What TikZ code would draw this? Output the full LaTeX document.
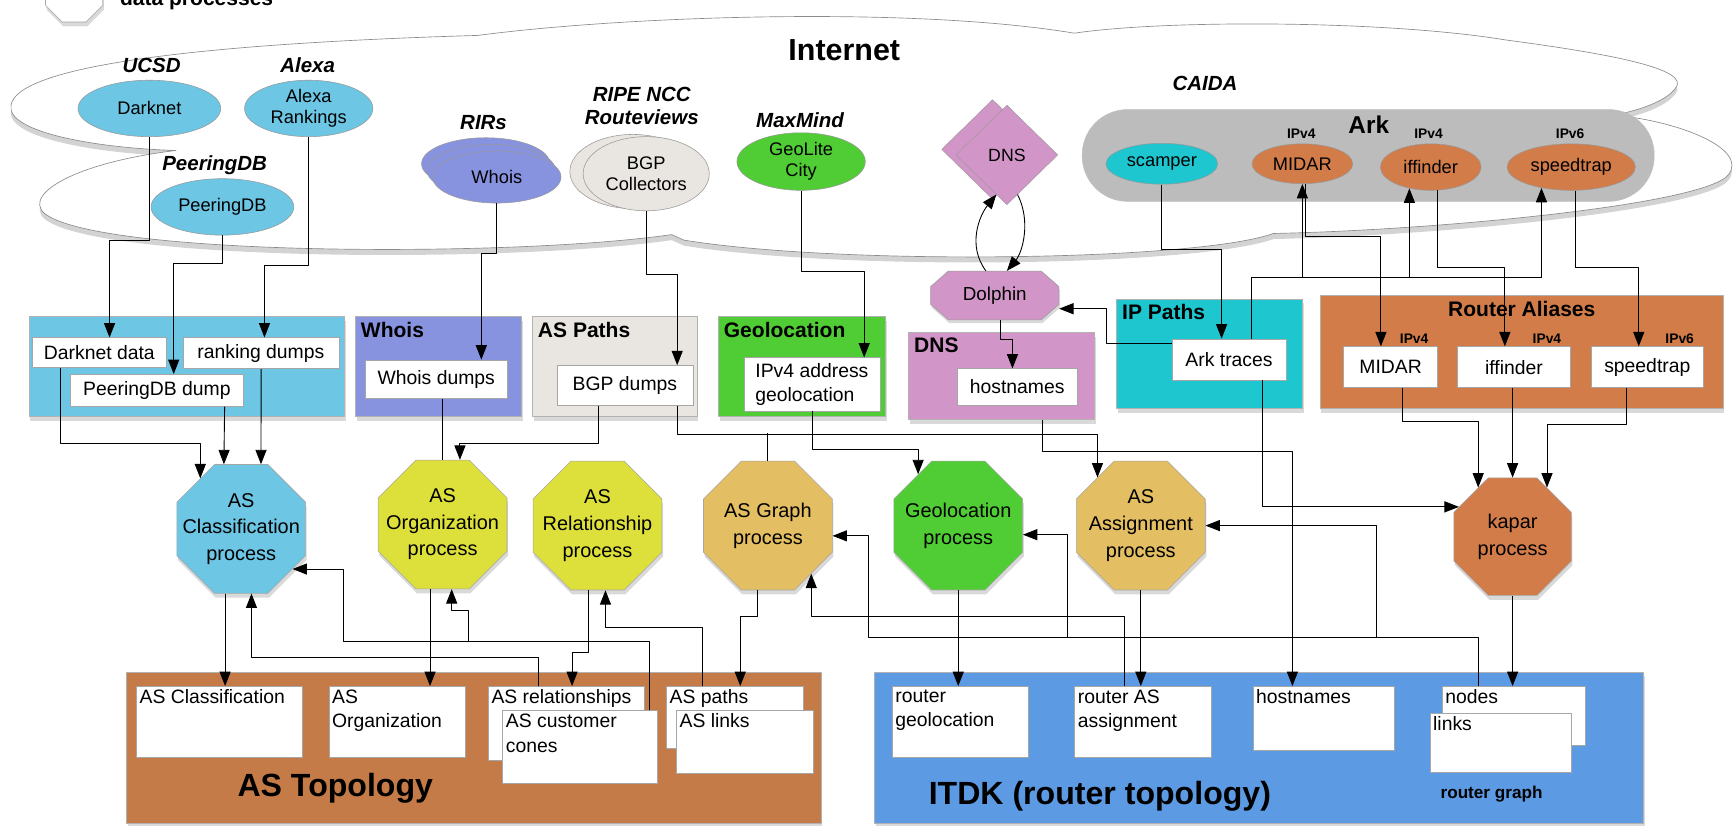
\documentclass[tikz,border=0pt]{standalone}
\usepackage{fontspec}
\setmainfont{Liberation Sans}
\usetikzlibrary{arrows.meta,shapes.geometric,shadows}

\definecolor{cSky}{RGB}{108,198,228}
\definecolor{cLav}{RGB}{136,147,224}
\definecolor{cSand}{RGB}{233,229,224}
\definecolor{cLeaf}{RGB}{80,204,52}
\definecolor{cOrchid}{RGB}{209,150,199}
\definecolor{cTeal}{RGB}{30,198,208}
\definecolor{cRust}{RGB}{210,124,74}
\definecolor{cLime}{RGB}{221,223,58}
\definecolor{cGold}{RGB}{227,190,98}
\definecolor{cBrown}{RGB}{196,123,72}
\definecolor{cBlue}{RGB}{92,155,228}
\definecolor{cArk}{RGB}{188,188,188}

\begin{document}
\begin{tikzpicture}[
  x=1pt,y=-1pt,
  line join=round,
  srclabel/.style={font=\fontsize{18.5}{21}\selectfont\bfseries\itshape,align=center},
  src/.style={ellipse,draw=black!40,line width=0.5pt,inner sep=0pt,align=center,
    font=\fontsize{16.5}{19}\selectfont},
  iplbl/.style={font=\fontsize{12.5}{14}\selectfont\bfseries},
  container/.style={rectangle,draw=black!30,line width=0.5pt,anchor=north west,inner sep=0pt,
    drop shadow={shadow xshift=1pt,shadow yshift=-4pt,opacity=0.3}},
  wbox/.style={rectangle,draw=black!35,line width=0.5pt,fill=white,anchor=north west,
    inner sep=0pt,align=center,font=\fontsize{17.5}{22}\selectfont},
  boxtext/.style={anchor=north west,inner sep=3pt,align=left,font=\fontsize{17.5}{22.5}\selectfont},
  boxtitle/.style={anchor=north west,inner sep=5pt,font=\fontsize{19}{21}\selectfont\bfseries},
  bigtitle/.style={font=\fontsize{29}{32}\selectfont\bfseries},
  proc/.style={regular polygon,regular polygon sides=8,minimum size=126pt,inner sep=0pt,
    draw=black!35,line width=0.5pt,drop shadow={shadow xshift=1pt,shadow yshift=-4pt,opacity=0.3}},
  proctext/.style={align=center,font=\fontsize{18}{24}\selectfont},
  arrow/.style={-{Triangle[length=13pt,width=10pt]},line width=0.8pt},
  wire/.style={line width=0.8pt}
]
\useasboundingbox (0,0) rectangle (1568,746);
\clip (0,0) rectangle (1568,746);

% legend (cut at the top)
\node[proc,minimum size=56pt,fill=white] (legendoct) at (67,-6) {};
\node[anchor=base west,font=\fontsize{19}{21}\selectfont\bfseries] (legendtxt) at (105,5) {data processes};

% Internet cloud
\path[fill=white,draw=black!45,line width=0.6pt,
  drop shadow={shadow xshift=0pt,shadow yshift=-5pt,opacity=0.35}]
  (432,32) .. controls (560,15) and (820,5) .. (971,30)
  .. controls (1050,18) and (1250,18) .. (1360,36)
  .. controls (1450,48) and (1530,62) .. (1514,80)
  .. controls (1505,92) and (1480,100) .. (1459,104)
  .. controls (1520,110) and (1580,135) .. (1562,158)
  .. controls (1540,185) and (1300,208) .. (1151,211)
  .. controls (1080,236) and (760,240) .. (618,217)
  -- (607,212)
  .. controls (470,232) and (110,232) .. (45,196)
  .. controls (15,180) and (60,148) .. (159,136)
  .. controls (90,134) and (5,120) .. (10,95)
  .. controls (15,62) and (160,40) .. cycle;
\node[font=\fontsize{27.5}{30}\selectfont\bfseries] (internet) at (763,45) {Internet};

% data sources
\node[srclabel] (ucsdlbl) at (137,59) {UCSD};
\node[src,fill=cSky,minimum width=129pt,minimum height=51pt] (darknet) at (135,98) {Darknet};
\node[srclabel] (alexalbl) at (278,59) {Alexa};
\node[src,fill=cSky,minimum width=116pt,minimum height=51pt] (alexa) at (279,98) {Alexa\\Rankings};
\node[srclabel] (peerlbl) at (194,149) {PeeringDB};
\node[src,fill=cSky,minimum width=129pt,minimum height=51pt] (peeringdb) at (201,187) {PeeringDB};
\node[srclabel] (rirlbl) at (437,111) {RIRs};
\node[src,fill=cLav,minimum width=116pt,minimum height=47pt] (whois3) at (439,148) {};
\node[src,fill=cLav,minimum width=116pt,minimum height=47pt] (whois2) at (444,154) {};
\node[src,fill=cLav,minimum width=116pt,minimum height=47pt] (whois) at (449,160) {Whois};
\node[srclabel] (ripelbl) at (580,96) {RIPE NCC\\Routeviews};
\node[src,fill=cSand,minimum width=114pt,minimum height=67pt] (bgpback) at (572,155) {};
\node[src,fill=cSand,minimum width=114pt,minimum height=67pt] (bgp) at (584,157) {BGP\\Collectors};
\node[srclabel] (maxlbl) at (723,109) {MaxMind};
\node[src,fill=cLeaf,minimum width=116pt,minimum height=52pt] (geolite) at (724,146) {GeoLite\\City};
\node[diamond,draw=black!40,fill=cOrchid,minimum width=92pt,minimum height=90pt,inner sep=0pt] (dnsback) at (897,135) {};
\node[diamond,draw=black!40,fill=cOrchid,minimum width=92pt,minimum height=90pt,inner sep=0pt,
  font=\fontsize{16}{18}\selectfont] (dns) at (910,140) {DNS};
% Dolphin octagon, stretched
\path[fill=cOrchid,draw=black!40,line width=0.5pt,
  drop shadow={shadow xshift=1pt,shadow yshift=-3pt,opacity=0.3}]
  (841,259) -- (857,245) -- (941,245) -- (957,259) -- (957,275) -- (941,289) -- (857,289) -- (841,275) -- cycle;
\node[minimum width=116pt,minimum height=44pt,inner sep=0pt,font=\fontsize{17}{19}\selectfont] (dolphin) at (899,267) {Dolphin};

% CAIDA / Ark
\node[srclabel] (caidalbl) at (1089,75) {CAIDA};
\node[rectangle,rounded corners=41pt,fill=cArk,draw=black!25,minimum width=517pt,minimum height=83pt] (ark) at (1236.5,140.5) {};
\node[font=\fontsize{22}{24}\selectfont\bfseries] (arklbl) at (1237,113) {Ark};
\node[src,fill=cTeal,minimum width=101pt,minimum height=37pt] (scamper) at (1050,148) {scamper};
\node[src,fill=cRust,minimum width=91pt,minimum height=36pt] (midar) at (1177,148) {MIDAR};
\node[src,fill=cRust,minimum width=91pt,minimum height=42pt] (iffinder) at (1293,151) {iffinder};
\node[src,fill=cRust,minimum width=116pt,minimum height=42pt] (speedtrap) at (1420,151) {speedtrap};
\node[iplbl] (ipa) at (1176,121) {IPv4};
\node[iplbl] (ipb) at (1291,121) {IPv4};
\node[iplbl] (ipc) at (1419,121) {IPv6};

% data products
\node[container,fill=cSky,minimum width=285pt,minimum height=90pt] (asinputs) at (26,286) {};
\node[container,fill=cLav,minimum width=150pt,minimum height=90pt,label={[boxtitle]north west:Whois}] (whoisbox) at (321,286) {};
\node[container,fill=cSand,minimum width=149pt,minimum height=90pt,label={[boxtitle]north west:AS Paths}] (pathbox) at (481,286) {};
\node[container,fill=cLeaf,minimum width=151pt,minimum height=90pt,label={[boxtitle]north west:Geolocation}] (geobox) at (649,286) {};
\node[container,fill=cOrchid,minimum width=168pt,minimum height=79pt,label={[boxtitle]north west:DNS}] (dnsbox) at (821,300) {};
\node[container,fill=cTeal,minimum width=168pt,minimum height=99pt,label={[boxtitle]north west:IP Paths}] (ipbox) at (1009,270) {};
\node[container,fill=cRust,minimum width=364pt,minimum height=102pt,label={[boxtitle,anchor=north]north:Router Aliases}] (aliasbox) at (1193,267) {};

\node[wbox,minimum width=121pt,minimum height=27pt] (darkdata) at (29,305) {Darknet data};
\node[wbox,minimum width=141pt,minimum height=28pt] (rankdumps) at (165,305) {ranking dumps};
\node[wbox,minimum width=157pt,minimum height=29pt] (peerdump) at (63,338) {PeeringDB dump};
\node[wbox,minimum width=128pt,minimum height=35pt] (whoisdumps) at (330,325) {Whois dumps};
\node[wbox,minimum width=123pt,minimum height=36pt] (bgpdumps) at (503,330) {BGP dumps};
\node[wbox,minimum width=123pt,minimum height=48pt,align=left] (ipgeo) at (672,323) {IPv4 address\\geolocation};
\node[wbox,minimum width=108pt,minimum height=33pt] (dnsnames) at (865,333) {hostnames};
\node[wbox,minimum width=103pt,minimum height=37pt] (arktraces) at (1059,306) {Ark traces};
\node[wbox,minimum width=85pt,minimum height=37pt] (midarbox) at (1214,313) {MIDAR};
\node[wbox,minimum width=102pt,minimum height=37pt] (iffbox) at (1317,313) {iffinder};
\node[wbox,minimum width=101pt,minimum height=37pt] (speedbox) at (1438,313) {speedtrap};
\node[iplbl] (ipd) at (1278,306) {IPv4};
\node[iplbl] (ipe) at (1398,306) {IPv4};
\node[iplbl] (ipf) at (1518,306) {IPv6};

% processes
\node[proc,fill=cSky,label={[proctext]center:{AS\\Classification\\process}}] (asclass) at (218,478) {};
\node[proc,fill=cLime,label={[proctext]center:{AS\\Organization\\process}}] (asorg) at (400,474) {};
\node[proc,fill=cLime,label={[proctext]center:{AS\\Relationship\\process}}] (asrel) at (540,475) {};
\node[proc,fill=cGold,label={[proctext]center:{AS Graph\\process}}] (asgraph) at (694,475) {};
\node[proc,fill=cLeaf,label={[proctext]center:{Geolocation\\process}}] (geoproc) at (866,475) {};
\node[proc,fill=cGold,label={[proctext]center:{AS\\Assignment\\process}}] (asassign) at (1031,475) {};
\node[proc,fill=cRust,minimum size=115pt,label={[proctext]center:{kapar\\process}}] (kapar) at (1367,485) {};

% topologies
\node[container,fill=cBrown,minimum width=628pt,minimum height=137pt] (astopo) at (114,607) {};
\node[container,fill=cBlue,minimum width=695pt,minimum height=137pt] (itdk) at (790,607) {};
\node[bigtitle] (astopolbl) at (303,712) {AS Topology};
\node[bigtitle] (itdklbl) at (994,720) {ITDK (router topology)};
\node[font=\fontsize{15.5}{18}\selectfont\bfseries] (graphlbl) at (1348,718) {router graph};

\node[wbox,minimum width=150pt,minimum height=64pt,label={[boxtext]north west:AS Classification}] (asclassbox) at (123,620) {};
\node[wbox,minimum width=123pt,minimum height=64pt,label={[boxtext]north west:{AS\\Organization}}] (asorgbox) at (297,620) {};
\node[wbox,minimum width=141pt,minimum height=67pt,label={[boxtext]north west:AS relationships}] (asrelbox) at (441,620) {};
\node[wbox,minimum width=140pt,minimum height=66pt,label={[boxtext]north west:{AS customer\\cones}}] (asconebox) at (454,642) {};
\node[wbox,minimum width=124pt,minimum height=56pt,label={[boxtext]north west:AS paths}] (aspathbox) at (602,620) {};
\node[wbox,minimum width=124pt,minimum height=57pt,label={[boxtext]north west:AS links}] (aslinkbox) at (611,642) {};
\node[wbox,minimum width=123pt,minimum height=64pt,label={[boxtext]north west:{router\\geolocation}}] (rgeobox) at (806,620) {};
\node[wbox,minimum width=123pt,minimum height=64pt,label={[boxtext]north west:{router AS\\assignment}}] (rasbox) at (971,620) {};
\node[wbox,minimum width=128pt,minimum height=58pt,label={[boxtext]north west:hostnames}] (rnamebox) at (1132,620) {};
\node[wbox,minimum width=129pt,minimum height=53pt,label={[boxtext]north west:nodes}] (nodebox) at (1303,620) {};
\node[wbox,minimum width=128pt,minimum height=54pt,label={[boxtext]north west:links}] (linkbox) at (1292,644) {};

% sources to data products
\draw[arrow] (darknet.south) |- (99,217) -- ([xshift=70pt]darkdata.north west);
\draw[arrow] (peeringdb.south) |- (157,238) -- ([xshift=94pt]peerdump.north west);
\draw[arrow] (alexa.south) |- (239,240) -- ([xshift=74pt]rankdumps.north west);
\draw[arrow] (whois.south) |- (435,229) -- ([xshift=105pt]whoisdumps.north west);
\draw[arrow] (bgp.south) |- (612,248) -- ([xshift=109pt]bgpdumps.north west);
\draw[arrow] (geolite.south) |- (781,245) -- ([xshift=109pt]ipgeo.north west);
\draw[arrow] ([xshift=-8pt]dolphin.north) .. controls (874,222) and (885,195) .. (dns.-105);
\draw[arrow] (dns.-75) .. controls (932,200) and (924,228) .. ([xshift=11pt]dolphin.north);
\draw[arrow] ([xshift=5pt]dolphin.south) |- (915,307) -- ([xshift=50pt]dnsnames.north west);
\draw[arrow] ([yshift=-4pt]arktraces.north west) -- (1000,310) |- ([yshift=-12pt]dolphin.east);
\draw[arrow] (scamper.south) |- (1104,225) -- ([xshift=45pt]arktraces.north west);

% Ark probing for aliases
\coordinate (probes) at (1131,251);
\draw[wire] ([xshift=72pt]arktraces.north west) |- (speedtrap.-145 |- probes);
\draw[arrow] (midar.south |- probes) -- (midar.south);
\draw[arrow] (iffinder.-135 |- probes) -- (iffinder.-135);
\draw[arrow] (speedtrap.-145 |- probes) -- (speedtrap.-145);
\draw[arrow] (midar.-80) |- (1248,214) -- ([xshift=34pt]midarbox.north west);
\draw[arrow] (iffinder.-75) |- (1360,242) -- ([xshift=43pt]iffbox.north west);
\draw[arrow] (speedtrap.-80) |- (1481,242) -- ([xshift=43pt]speedbox.north west);

% into kapar
\draw[arrow] ([xshift=53pt]midarbox.south west) -- ++(0,30) -| (kapar.125);
\draw[arrow] (kapar.north |- iffbox.south) -- (kapar.north);
\draw[arrow] ([xshift=32pt]speedbox.south west) -- ++(0,33) -| (kapar.55);
\draw[arrow] ([xshift=82pt]arktraces.south west) |- (kapar.151);

% data products to processes
\draw[arrow] ([xshift=26pt]darkdata.south west) -- ++(0,68) -| (asclass.129);
\draw[arrow] ([xshift=140pt]peerdump.south west) -- (asclass.105);
\draw[arrow] ([xshift=71pt]rankdumps.south west) -- (asclass.73);
\draw[wire] ([xshift=70pt]whoisdumps.south west) -- (asorg.north);
\draw[arrow] ([xshift=38pt]bgpdumps.south west) -- ++(0,34) -| (asorg.75);
\draw[arrow] ([xshift=109pt]bgpdumps.south west) -- ++(0,26) -| (asassign.132);
\draw[wire] (asgraph.north) -- ++(0,-25);
\draw[arrow] ([xshift=62pt]ipgeo.south west) -- ++(0,35) -| (geoproc.128);
\draw[arrow] ([xshift=121pt]dnsbox.south west) |- (1168,408) -- ([xshift=36pt]rnamebox.north west);

% processes and topology products
\draw[arrow] (asclass.-104) -- (asclass.-104 |- asclassbox.north);
\draw[arrow] ([xshift=46pt]asrelbox.north west) -- ++(0,-26) -| (asclass.-81);
\coordinate (jorg) at (423,580);
\draw[arrow] ([xshift=133pt]asconebox.north west) |- (310,580) |- (asclass.-38);
\draw[arrow] (jorg) -- ++(0,-28) -| (asorg.-82);
\draw[arrow] (asorg.-101) -- (asorg.-101 |- asorgbox.north);
\draw[arrow] (asrel.-98) -- ++(0,56) -| ([xshift=76pt]asrelbox.north west);
\draw[arrow] ([xshift=33pt]aspathbox.north west) -- ++(0,-53) -| (asrel.-83);
\draw[arrow] (asgraph.-99) -- ++(0,24) -| ([xshift=67pt]aspathbox.north west);
\draw[arrow] ([xshift=45pt]rasbox.north west) -- ++(0,-63) -| (asgraph.-48);
\coordinate (jgeo) at (965,576);
\coordinate (jassign) at (1244,576);
\draw[arrow] ([xshift=33pt]nodebox.north west) |- (785,576) |- (asgraph.-9);
\draw[arrow] (jgeo) |- (geoproc.-8);
\draw[arrow] (jassign) |- (asassign.east);
\draw[arrow] (geoproc.south) -- (geoproc.south |- rgeobox.north);
\draw[arrow] (asassign.south) -- (asassign.south |- rasbox.north);
\draw[arrow] (kapar.south) -- (kapar.south |- nodebox.north);
\end{tikzpicture}
\end{document}
